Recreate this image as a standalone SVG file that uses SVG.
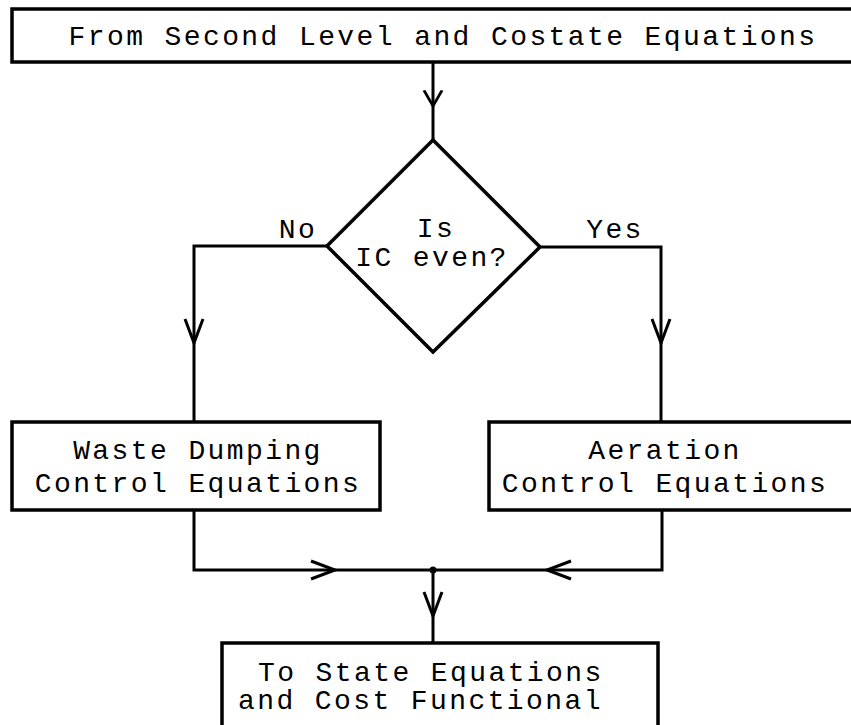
<svg xmlns="http://www.w3.org/2000/svg" width="851" height="725" viewBox="0 0 851 725">
  <style>
    .box { fill: #ffffff; stroke: #000000; stroke-width: 3.5; }
    .wire { fill: none; stroke: #000000; stroke-width: 3; stroke-linejoin: miter; }
    .label { font-family: "Liberation Mono", "Courier New", monospace; font-size: 28px; letter-spacing: 2.4px; fill: #000000; }
    .mid { text-anchor: middle; }
  </style>
  <defs>
    <!-- open chevron arrowhead, tip at origin, pointing down -->
    <path id="chev" d="M-9,-24 L0,0 L9,-24" fill="none" stroke="#000000" stroke-width="3" stroke-linejoin="miter"/>
  </defs>

  <rect width="851" height="725" fill="#ffffff"/>

  <g id="connectors">
    <!-- start box to decision -->
    <path class="wire" d="M433,62 L433,140"/>
    <use href="#chev" transform="translate(433,106) scale(1,0.65)"/>
    <!-- No branch -->
    <path class="wire" d="M327,246 L194,246 L194,422"/>
    <use href="#chev" transform="translate(194,343)"/>
    <!-- Yes branch -->
    <path class="wire" d="M540,247 L661,247 L661,422"/>
    <use href="#chev" transform="translate(661,343)"/>
    <!-- merge of the two control branches -->
    <path class="wire" d="M194,510 L194,570 L662,570 L662,510"/>
    <use href="#chev" transform="translate(335,570) rotate(-90)"/>
    <use href="#chev" transform="translate(547,570) rotate(90)"/>
    <circle cx="433" cy="570" r="3.5" fill="#000000"/>
    <path class="wire" d="M433,570 L433,643"/>
    <use href="#chev" transform="translate(433,616)"/>
  </g>

  <g id="start">
    <rect class="box" x="12" y="9" width="850" height="53"/>
    <text class="label mid" x="443" y="45">From Second Level and Costate Equations</text>
  </g>

  <g id="decision">
    <path class="box" d="M433,140 L540,247 L433,352 L327,246 Z" stroke-width="3"/>
    <text class="label mid" x="436" y="237">Is</text>
    <text class="label mid" x="432" y="266">IC even?</text>
  </g>

  <g id="label-no">
    <text class="label mid" x="298" y="238">No</text>
  </g>
  <g id="label-yes">
    <text class="label mid" x="615" y="238">Yes</text>
  </g>

  <g id="waste-dumping">
    <rect class="box" x="12" y="422" width="368" height="88"/>
    <text class="label mid" x="198" y="459">Waste Dumping</text>
    <text class="label mid" x="198" y="492">Control Equations</text>
  </g>

  <g id="aeration">
    <rect class="box" x="489" y="422" width="380" height="88"/>
    <text class="label mid" x="665" y="459">Aeration</text>
    <text class="label mid" x="665" y="492">Control Equations</text>
  </g>

  <g id="finish">
    <rect class="box" x="222" y="643" width="436" height="100"/>
    <text class="label" x="258" y="681">To State Equations</text>
    <text class="label" x="238" y="709">and Cost Functional</text>
  </g>
</svg>
